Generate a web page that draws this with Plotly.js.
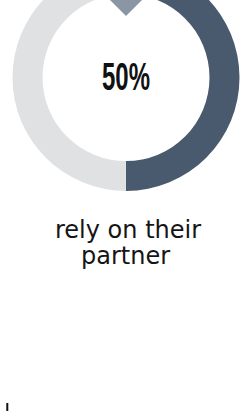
<!DOCTYPE html>
<html>
<head>
<meta charset="utf-8">
<script src="https://cdn.plot.ly/plotly-3.0.1.min.js"></script>
<style>
  html, body { margin: 0; padding: 0; background: #ffffff; overflow: hidden; width: 241px; height: 411px; }
  #chart { position: absolute; left: 0; top: -40px; width: 241px; height: 451px; }
</style>
</head>
<body>
<div id="chart"></div>
<script>
// ---- data ----
const labels = ["rely on their partner", "other"];
const values = [50, 50];
const colors = ["#4a5a6e", "#e0e1e3"];
const captionLines = ["rely on their", "partner"];

// ---- geometry helpers (pixel -> paper, div is 241 x 451, shifted up 40px) ----
const W = 241, H = 451, OFF = 40;
const px = x => x / W;
const py = y => 1 - (y + OFF) / H;

const cx = 126, cy = 77.5, R = 113.5, rIn = 83.5;

const share = Math.round(values[0] / values.reduce((a, b) => a + b, 0) * 100);

const trace = {
  type: "pie",
  labels: labels,
  values: values,
  marker: { colors: colors, line: { width: 0 } },
  hole: rIn / R,
  sort: false,
  direction: "clockwise",
  rotation: 0,
  textinfo: "none",
  hoverinfo: "none",
  showlegend: false,
  domain: { x: [px(cx - R), px(cx + R)], y: [py(cy + R), py(cy - R)] }
};

const layout = {
  width: W, height: H,
  margin: { l: 0, r: 0, t: 0, b: 0 },
  paper_bgcolor: "#ffffff",
  showlegend: false,
  shapes: [
    { type: "path", xref: "paper", yref: "paper",
      path: `M ${px(cx - 40)} ${py(-24)} L ${px(cx + 40)} ${py(-24)} L ${px(cx)} ${py(16)} Z`,
      fillcolor: "#8a96a4", line: { width: 0 } },
    { type: "line", xref: "paper", yref: "paper",
      x0: px(7.3), x1: px(7.3), y0: py(403), y1: py(413),
      line: { color: "#111111", width: 2 } }
  ],
  annotations: [
    { text: share + "%", xref: "paper", yref: "paper", x: px(126), y: py(77), xanchor: "center", yanchor: "middle",
      showarrow: false, font: { family: "Liberation Sans, Arial, sans-serif", size: 38, color: "#111111", weight: 700 } },
    { text: captionLines[0], xref: "paper", yref: "paper", x: px(128), y: py(229.5), xanchor: "center", yanchor: "middle",
      showarrow: false, font: { family: "DejaVu Sans", size: 24, color: "#151515" } },
    { text: captionLines[1], xref: "paper", yref: "paper", x: px(125.5), y: py(256), xanchor: "center", yanchor: "middle",
      showarrow: false, font: { family: "DejaVu Sans", size: 24, color: "#151515" } }
  ]
};

Plotly.newPlot("chart", [trace], layout, { displayModeBar: false, staticPlot: true }).then(() => {
  document.querySelectorAll("#chart .annotation-text").forEach(t => {
    if (t.textContent.trim() === share + "%") {
      const bb = t.getBBox();
      const mx = bb.x + bb.width / 2;
      const s = 48 / bb.width;
      t.setAttribute("transform", `translate(${mx},0) scale(${s},1) translate(${-mx},0)`);
    }
  });
});
</script>
</body>
</html>
